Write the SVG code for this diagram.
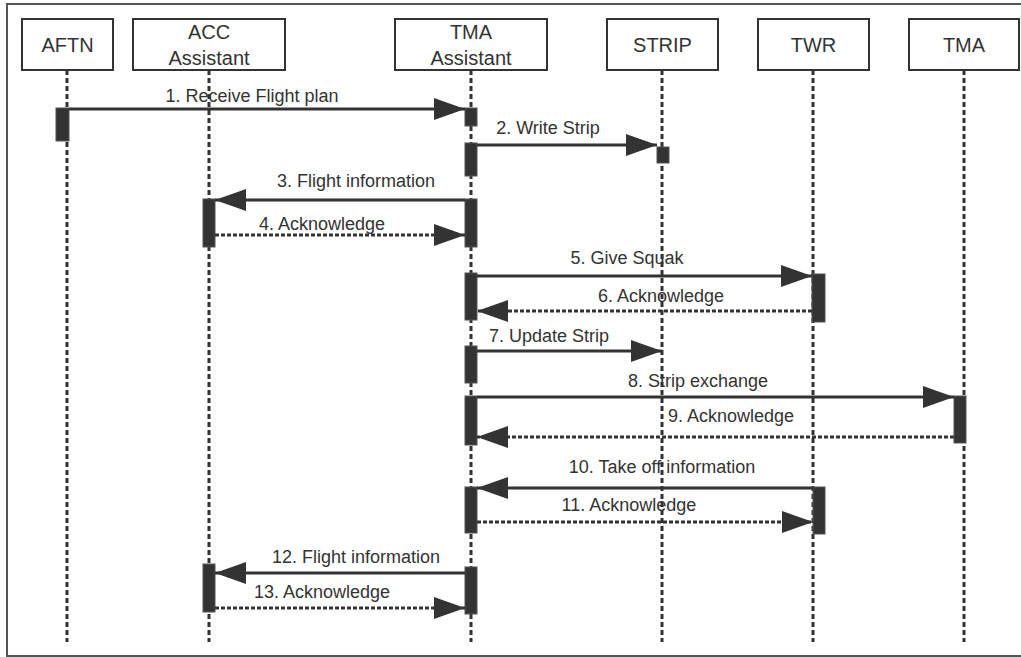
<svg xmlns="http://www.w3.org/2000/svg" width="1021" height="657" viewBox="0 0 1021 657">
<style>
.frame{fill:none;stroke:#555;stroke-width:2}
.box{fill:#fff;stroke:#333;stroke-width:2}
.hdr{font-family:"Liberation Sans",Arial,sans-serif;font-size:20px;fill:#333;text-anchor:middle}
.life{stroke:#333;stroke-width:3;stroke-dasharray:5 3;fill:none}
.bar{fill:#333;stroke:#555;stroke-width:1}
.msg{stroke:#333;stroke-width:3;fill:none;marker-end:url(#ah)}
.ret{stroke-dasharray:4 2}
.lbl{font-family:"Liberation Sans",Arial,sans-serif;font-size:18px;fill:#333;text-anchor:middle}
</style>
<defs>
<marker id="ah" markerUnits="userSpaceOnUse" markerWidth="31" markerHeight="22" viewBox="0 0 31 22" refX="31" refY="11" orient="auto">
<path d="M0,0 L31,11 L0,22 z" fill="#333"/>
</marker>
</defs>
<rect x="0" y="0" width="1021" height="657" fill="#fff"/>
<path class="frame" d="M1022,4 H7 V656 H1022"/>

<g id="aftn">
<line class="life" x1="67" y1="70" x2="67" y2="642"/>
<rect class="box" x="22" y="19" width="91" height="51"/>
<text class="hdr" x="67.5" y="52">AFTN</text>
<rect class="bar" x="56" y="108" width="13" height="33"/>
</g>

<g id="acc-assistant">
<line class="life" x1="209" y1="70" x2="209" y2="642"/>
<rect class="box" x="133" y="19" width="152" height="51"/>
<text class="hdr" x="209" y="39">ACC</text>
<text class="hdr" x="209" y="65">Assistant</text>
<rect class="bar" x="203" y="199" width="12" height="48"/>
<rect class="bar" x="203" y="564" width="12" height="48"/>
</g>

<g id="tma-assistant">
<line class="life" x1="471" y1="70" x2="471" y2="642"/>
<rect class="box" x="395" y="19" width="152" height="51"/>
<text class="hdr" x="471" y="39">TMA</text>
<text class="hdr" x="471" y="65">Assistant</text>
<rect class="bar" x="465" y="108" width="12" height="18"/>
<rect class="bar" x="465" y="143" width="12" height="33"/>
<rect class="bar" x="465" y="199" width="12" height="48"/>
<rect class="bar" x="465" y="273" width="12" height="47"/>
<rect class="bar" x="465" y="346" width="12" height="37"/>
<rect class="bar" x="465" y="396" width="12" height="49"/>
<rect class="bar" x="465" y="487" width="12" height="46"/>
<rect class="bar" x="465" y="567" width="12" height="47"/>
</g>

<g id="strip">
<line class="life" x1="662" y1="70" x2="662" y2="642"/>
<rect class="box" x="607" y="19" width="111" height="51"/>
<text class="hdr" x="662.5" y="52">STRIP</text>
<rect class="bar" x="657" y="147" width="12" height="16"/>
</g>

<g id="twr">
<line class="life" x1="813" y1="70" x2="813" y2="642"/>
<rect class="box" x="758" y="19" width="111" height="51"/>
<text class="hdr" x="813.5" y="52">TWR</text>
<rect class="bar" x="812" y="274" width="13" height="48"/>
<rect class="bar" x="813" y="487" width="12" height="47"/>
</g>

<g id="tma">
<line class="life" x1="964" y1="70" x2="964" y2="642"/>
<rect class="box" x="909" y="19" width="110" height="51"/>
<text class="hdr" x="964" y="52">TMA</text>
<rect class="bar" x="954" y="396" width="12" height="47"/>
</g>

<g id="connectors">
<path class="msg" d="M69,109 H465"/>
<text class="lbl" x="252" y="102">1. Receive Flight plan</text>
<path class="msg" d="M477,145 H657"/>
<text class="lbl" x="548" y="134">2. Write Strip</text>
<path class="msg" d="M465,200 H215"/>
<text class="lbl" x="356" y="187">3. Flight information</text>
<path class="msg ret" d="M215,235 H465"/>
<text class="lbl" x="322" y="230">4. Acknowledge</text>
<path class="msg" d="M477,276 H812"/>
<text class="lbl" x="627" y="264">5. Give Squak</text>
<path class="msg ret" d="M812,311 H477"/>
<text class="lbl" x="661" y="302">6. Acknowledge</text>
<path class="msg" d="M477,351 H662"/>
<text class="lbl" x="549" y="342">7. Update Strip</text>
<path class="msg" d="M477,397 H954"/>
<text class="lbl" x="698" y="387">8. Strip exchange</text>
<path class="msg ret" d="M954,437 H477"/>
<text class="lbl" x="731" y="422">9. Acknowledge</text>
<path class="msg" d="M813,488 H477"/>
<text class="lbl" x="662" y="473">10. Take off information</text>
<path class="msg ret" d="M477,522 H813"/>
<text class="lbl" x="629" y="511">11. Acknowledge</text>
<path class="msg" d="M465,573 H215"/>
<text class="lbl" x="356" y="563">12. Flight information</text>
<path class="msg ret" d="M215,608 H465"/>
<text class="lbl" x="322" y="598">13. Acknowledge</text>
</g>
</svg>
